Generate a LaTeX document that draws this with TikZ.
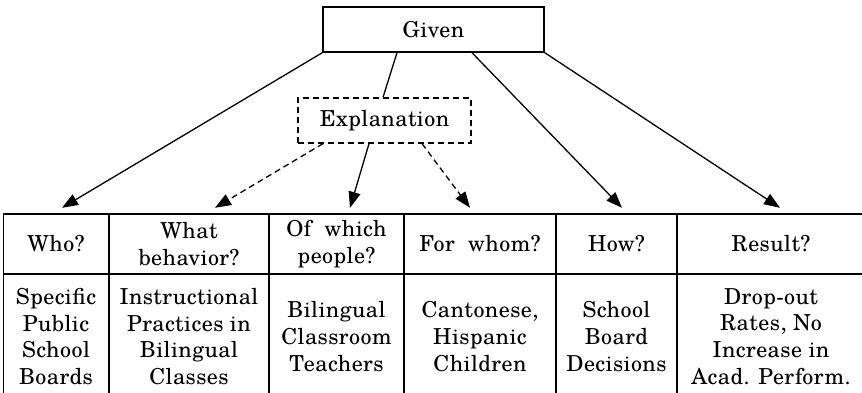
\documentclass[tikz,border=0pt]{standalone}
\usepackage{fontspec}
\setmainfont{texgyreschola-regular.otf}[LetterSpace=2]
\usetikzlibrary{arrows.meta,calc}
\begin{document}
\begin{tikzpicture}[x=1pt,y=-1pt,
  every node/.style={font=\fontsize{22}{26.7}\selectfont, inner sep=0pt, align=center},
  topbox/.style={draw, line width=1.4pt, minimum width=221pt, minimum height=45pt},
  explbox/.style={draw, line width=1.3pt, dash pattern=on 6pt off 4pt, minimum width=173pt, minimum height=45pt},
  cell/.style={minimum height=60pt},
  arr/.style={line width=1.3pt, -{Triangle[length=16pt,width=12pt]}},
  darr/.style={arr, dash pattern=on 6pt off 4pt},
  link/.style={line width=1.3pt},
  grid/.style={line width=1.4pt},
]
\useasboundingbox (0,0) rectangle (862,393);
% top nodes
\node[topbox] (given) at (433.5,29.5) {Given};
\node[explbox] (expl) at (384.5,120.5) {Explanation};
% header cells
\node[cell, minimum width=105pt] (who) at (56,244) {Who?};
\node[cell, minimum width=160pt] (what) at (189,244) {What\\behavior?};
\node[cell, minimum width=135pt] (people) at (336.5,244) {Of \ which\\people?};
\node[cell, minimum width=152pt] (whom) at (480,244) {For \ whom?};
\node[cell, minimum width=121pt] (how) at (616.5,244) {How?};
\node[cell, minimum width=188pt] (result) at (771,244) {Result?};
% body cells
\node (whoB) at (56,336.5) {Specific\\Public\\School\\Boards};
\node (whatB) at (189,336.5) {Instructional\\Practices in\\Bilingual\\Classes};
\node (peopleB) at (336.5,336.5) {Bilingual\\Classroom\\Teachers};
\node (whomB) at (480,336.5) {Cantonese,\\Hispanic\\Children};
\node (howB) at (616.5,336.5) {School\\Board\\Decisions};
\node (resultB) at (771,336.5) {Drop-out\\Rates, No\\Increase in\\Acad. Perform.};
% grid
\draw[grid] (3.5,400) -- (3.5,214) -- (870,214);
\draw[grid] (3.5,274) -- (870,274);
\foreach \xx in {109,269,404,556} \draw[grid] (\xx,214) -- (\xx,400);
\draw[line width=1.9pt] (677,214) -- (677,400);
% connectors
\draw[arr] (given.south west) -- ([xshift=6pt,yshift=6pt]who.north);
\draw[link] ([xshift=-36.5pt]given.south) -- ([xshift=-1.5pt]expl.north);
\draw[arr] ([xshift=38.5pt]given.south) -- ([xshift=5.5pt,yshift=6pt]how.north);
\draw[arr] (given.south east) -- ([xshift=9pt,yshift=6pt]result.north);
\draw[darr] ([xshift=-61.5pt]expl.south) -- ([xshift=26pt,yshift=6pt]what.north);
\draw[arr] ([xshift=-15.5pt]expl.south) -- ([xshift=13.5pt,yshift=6pt]people.north);
\draw[darr] ([xshift=37.5pt]expl.south) -- ([xshift=-10pt,yshift=6pt]whom.north);
\end{tikzpicture}
\end{document}
